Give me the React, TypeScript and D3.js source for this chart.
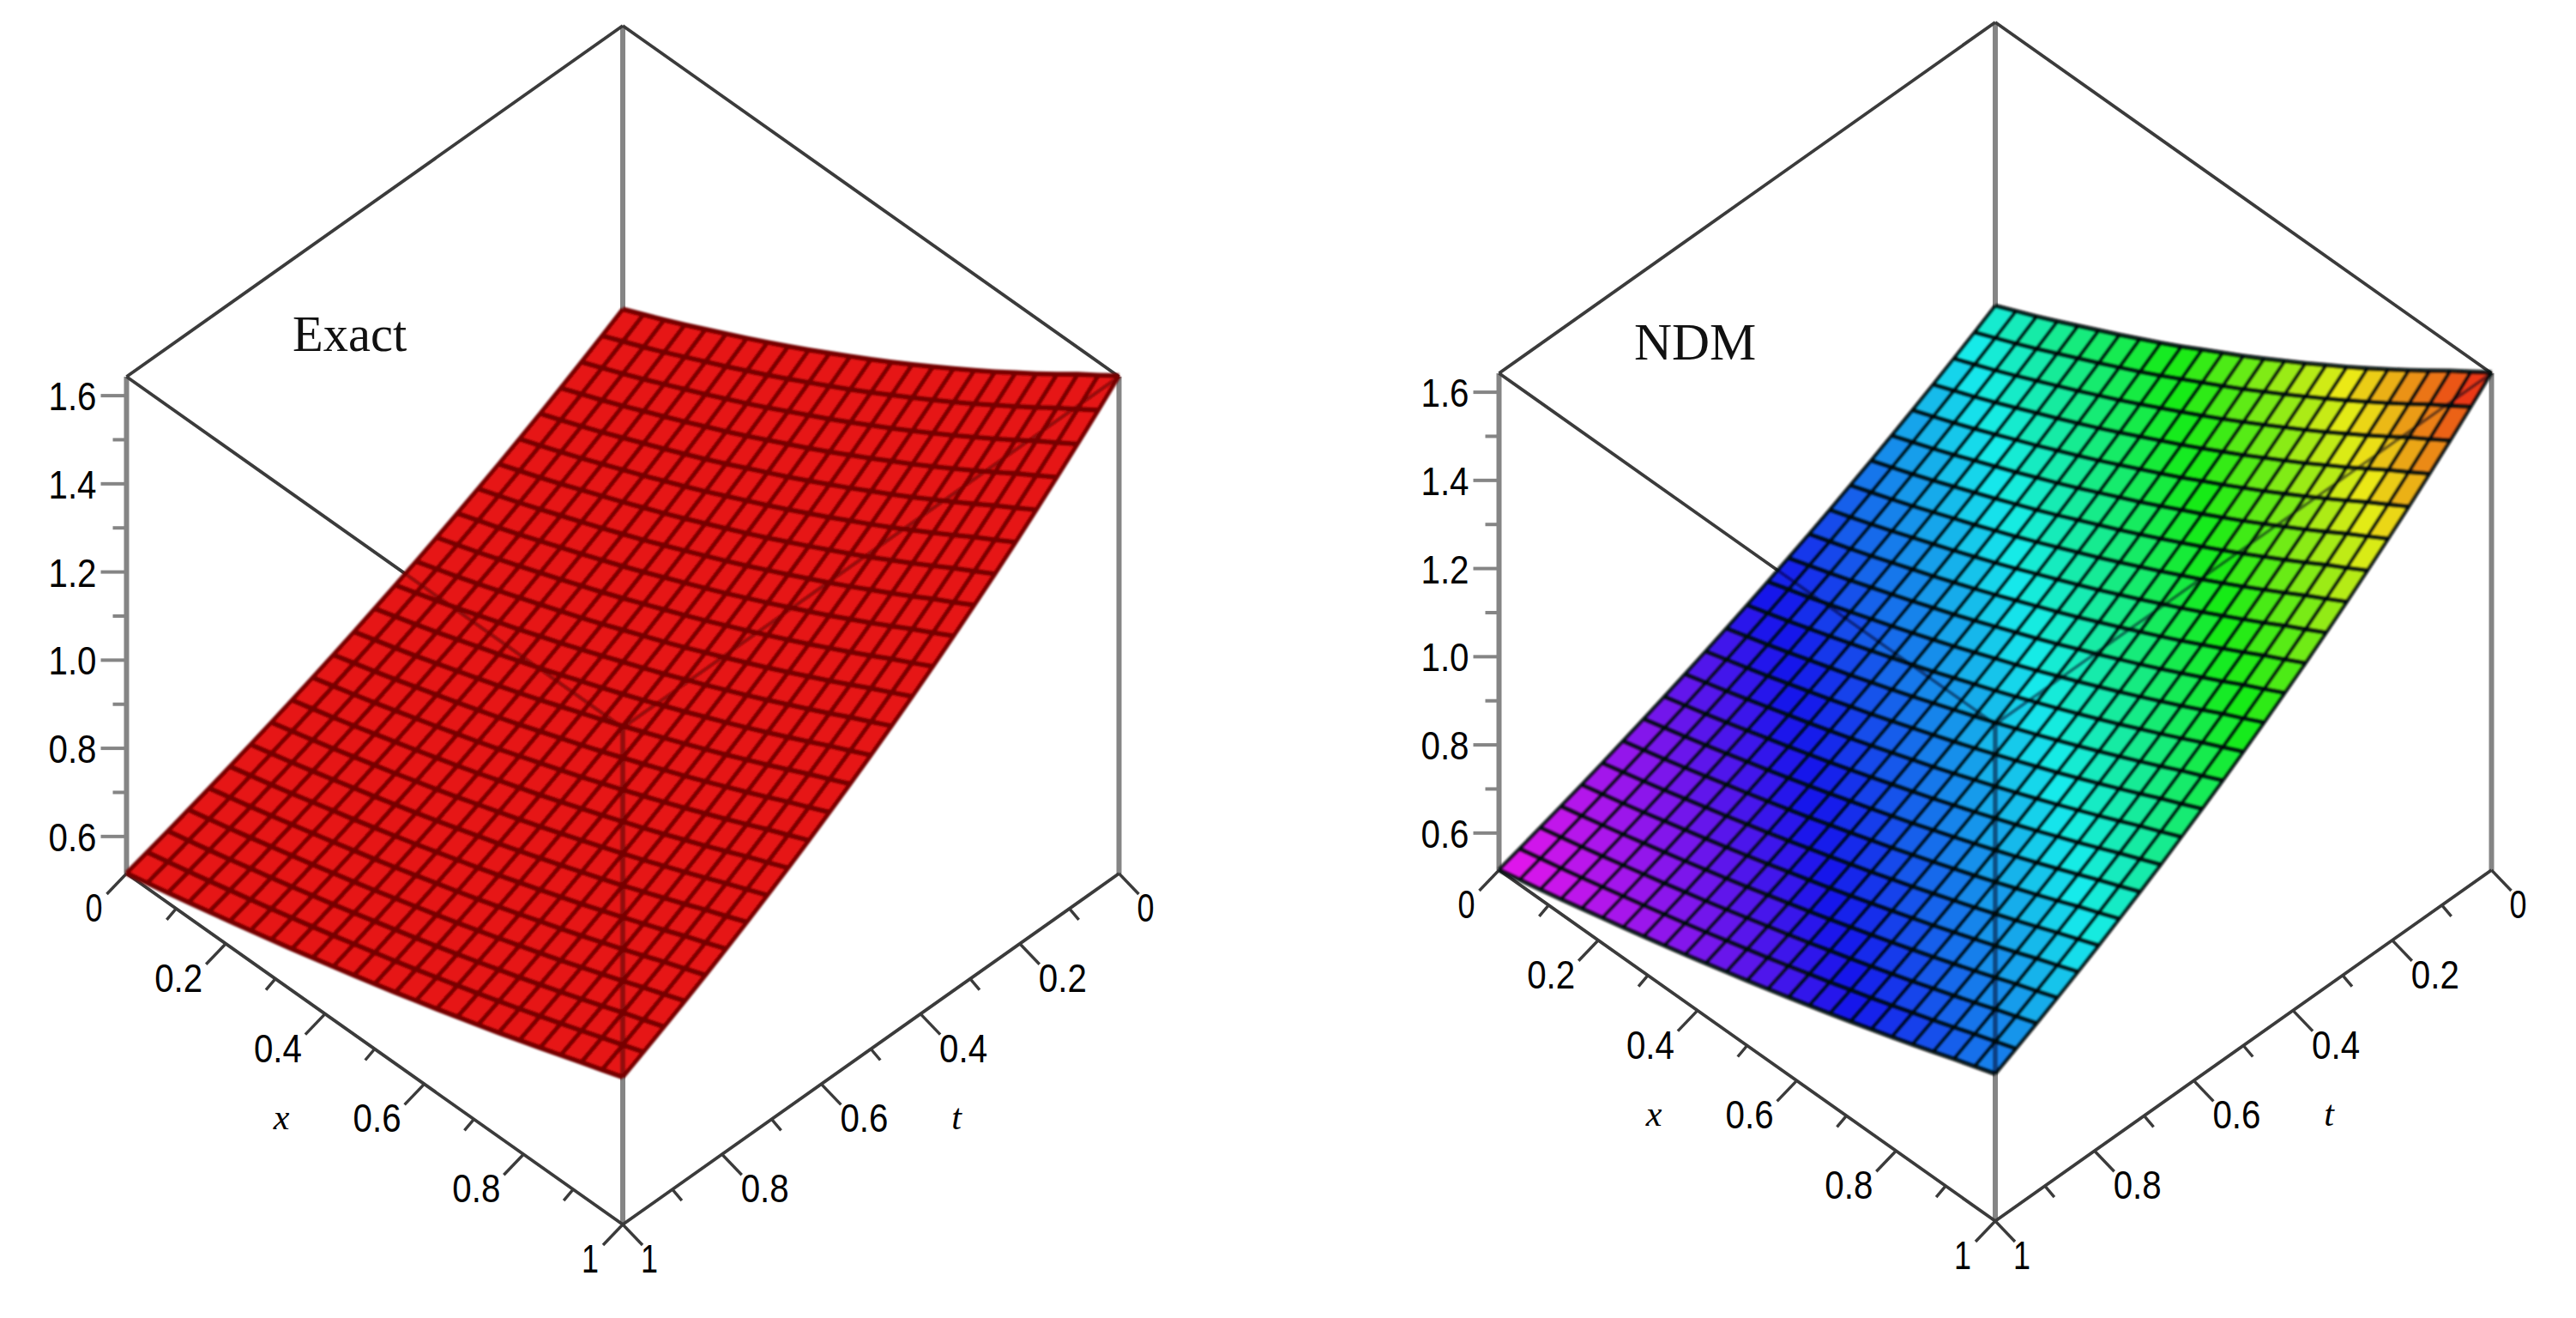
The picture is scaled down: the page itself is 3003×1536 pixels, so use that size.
import React from "react";
import * as d3 from "d3";

// Surface: height along the t = 0 edge for each x grid line,
// and the fraction of that height left along each t grid line.
const heightAtT0 = [1.000,1.021,1.042,1.064,1.087,1.110,1.133,1.157,1.181,1.206,1.232,1.258,1.284,1.311,1.339,1.367,1.396,1.425,1.455,1.486,1.517,1.549,1.582,1.613,1.645];
const ratioAlongT = [1,0.9729,0.9465,0.9208,0.8958,0.8715,0.8479,0.8249,0.8025,0.7807,0.7596,0.7390,0.7189,0.6994,0.6805,0.6620,0.6440,0.6266,0.6096,0.5930,0.5769,0.5613,0.5461,0.5313,0.5169];
const surface = heightAtT0.map((h) => ratioAlongT.map((r) => h * r));

const xGrid = heightAtT0.map((_, i) => i / (heightAtT0.length - 1));
const tGrid = ratioAlongT.map((_, j) => j / (ratioAlongT.length - 1));

const zMajor = [0.6, 0.8, 1.0, 1.2, 1.4, 1.6];
const zMinor = [0.7, 0.9, 1.1, 1.3, 1.5];
const axisMajor = [0, 0.2, 0.4, 0.6, 0.8, 1];
const axisMinor = [0.1, 0.3, 0.5, 0.7, 0.9];
const axisLabels = ["0", "0.2", "0.4", "0.6", "0.8", "1"];

const zMin = 0.516;
const zMax = 1.643;

const px = d3.scaleLinear().domain([0, 1]).range([0, 578.5]);
const py = d3.scaleLinear().domain([0, 1]).range([0, 409]);
const pz = d3.scaleLinear().domain([zMin, zMax]).range([0, 579]);
const hue = d3.scaleLinear().domain([0.516, 1.645]).range([300, 0]);

const project = (x: number, t: number, z: number): [number, number] => [
  147.5 + px(x) + px(1 - t),
  1018 + py(x) - py(1 - t) - pz(z),
];
const line = d3.line<[number, number]>();

type PanelProps = {
  title: string;
  titleX: number;
  titleY: number;
  titleSize: number;
  dx: number;
  dy: number;
  id: string;
  cellColor: (z: number) => string;
  gridColor: string;
  overlayColor: string;
  xWidth: number;
  tWidth: number;
};

function Panel({ title, titleX, titleY, titleSize, dx, dy, id, cellColor, gridColor, overlayColor, xWidth, tWidth }: PanelProps) {
  const P = project;
  const apex = P(0, 0, zMax);
  const lu = P(0, 1, zMax);
  const ru = P(1, 0, zMax);
  const center = P(1, 1, zMax);
  const ll = P(0, 1, zMin);
  const rl = P(1, 0, zMin);
  const front = P(1, 1, zMin);
  const back = P(0, 0, zMin);

  const n = xGrid.length;
  const m = tGrid.length;
  const cells: { d: string; c: string }[] = [];
  for (let i = 0; i < n - 1; i++) {
    for (let j = 0; j < m - 1; j++) {
      const avg = (surface[i][j] + surface[i + 1][j] + surface[i][j + 1] + surface[i + 1][j + 1]) / 4;
      cells.push({
        d: line([
          P(xGrid[i], tGrid[j], surface[i][j]),
          P(xGrid[i + 1], tGrid[j], surface[i + 1][j]),
          P(xGrid[i + 1], tGrid[j + 1], surface[i + 1][j + 1]),
          P(xGrid[i], tGrid[j + 1], surface[i][j + 1]),
        ]) + "Z",
        c: cellColor(avg),
      });
    }
  }
  const outline = [
    ...xGrid.map((x, i) => P(x, 0, surface[i][0])),
    ...tGrid.map((t, j) => P(1, t, surface[n - 1][j])),
    ...xGrid.map((x, i) => P(x, 1, surface[i][m - 1])).reverse(),
    ...tGrid.map((t, j) => P(0, t, surface[0][j])).reverse(),
  ];

  const grey = "#858585";
  const dark = "#3a3a3a";
  const digits = { fontFamily: "'Liberation Sans', Arial, sans-serif", fontSize: 47, fill: "#000" } as const;

  return (
    <g transform={`translate(${dx},${dy})`}>
      <defs>
        <clipPath id={`${id}-clip`}>
          <path d={line(outline) + "Z"} />
        </clipPath>
        <filter id={`${id}-soft`} x="-2%" y="-2%" width="104%" height="104%">
          <feGaussianBlur stdDeviation="1.3" />
        </filter>
        <filter id={`${id}-line`} x="-2%" y="-2%" width="104%" height="104%">
          <feGaussianBlur stdDeviation="0.6" />
        </filter>
      </defs>

      <g filter={`url(#${id}-line)`}>
        {/* box */}
        {[[apex, back], [lu, ll], [ru, rl], [center, front]].map((s, k) => (
          <path key={k} d={line(s as [number, number][]) ?? ""} stroke={grey} strokeWidth={6} fill="none" />
        ))}
        {[[lu, apex], [apex, ru], [lu, center], [ru, center], [ll, front], [rl, front]].map((s, k) => (
          <path key={k} d={line(s as [number, number][]) ?? ""} stroke={dark} strokeWidth={3.8} fill="none" />
        ))}

        {/* ticks */}
        {zMajor.map((z) => {
          const [a, b] = P(0, 1, z);
          return <path key={z} d={line([[a - 30, b], [a, b]]) ?? ""} stroke={grey} strokeWidth={4} />;
        })}
        {zMinor.map((z) => {
          const [a, b] = P(0, 1, z);
          return <path key={z} d={line([[a - 16, b], [a, b]]) ?? ""} stroke={grey} strokeWidth={4} />;
        })}
        {axisMajor.map((v) => {
          const a = P(v, 1, zMin);
          const b = P(1, v, zMin);
          return (
            <g key={v} stroke={dark} strokeWidth={3.4}>
              <path d={line([a, [a[0] - 23, a[1] + 24]]) ?? ""} />
              <path d={line([b, [b[0] + 23, b[1] + 24]]) ?? ""} />
            </g>
          );
        })}
        {axisMinor.map((v) => {
          const a = P(v, 1, zMin);
          const b = P(1, v, zMin);
          return (
            <g key={v} stroke={dark} strokeWidth={3.4}>
              <path d={line([a, [a[0] - 11, a[1] + 13]]) ?? ""} />
              <path d={line([b, [b[0] + 11, b[1] + 13]]) ?? ""} />
            </g>
          );
        })}
      </g>

      {/* surface */}
      <g filter={`url(#${id}-soft)`}>
        {cells.map((c, k) => (
          <path key={k} d={c.d} fill={c.c} stroke={c.c} strokeWidth={0.8} />
        ))}
        <g clipPath={`url(#${id}-clip)`} fill="none" stroke={overlayColor}>
          <path d={line([lu, center]) ?? ""} strokeWidth={4} />
          <path d={line([ru, center]) ?? ""} strokeWidth={4} />
          <path d={line([center, front]) ?? ""} strokeWidth={6} />
        </g>
        <g fill="none" stroke={gridColor}>
          {xGrid.map((x, i) => (
            <path key={i} strokeWidth={xWidth} d={line(tGrid.map((t, j) => P(x, t, surface[i][j]))) ?? ""} />
          ))}
          {tGrid.map((t, j) => (
            <path key={j} strokeWidth={tWidth} d={line(xGrid.map((x, i) => P(x, t, surface[i][j]))) ?? ""} />
          ))}
        </g>
      </g>

      {/* labels */}
      {zMajor.map((z) => {
        const [a, b] = P(0, 1, z);
        return (
          <text key={z} x={a - 35} y={b} dy="0.36em" textAnchor="end" textLength={56} lengthAdjust="spacingAndGlyphs" {...digits}>
            {z.toFixed(1)}
          </text>
        );
      })}
      {axisMajor.map((v, k) => {
        const a = P(v, 1, zMin);
        const b = P(1, v, zMin);
        const wide = axisLabels[k].length > 1;
        const tl = wide ? 56 : 20;
        const cy = 39;
        return (
          <g key={v}>
            <text x={a[0] - (wide ? 55 : 38)} y={a[1] + cy} dy="0.36em" textAnchor="middle" textLength={tl} lengthAdjust="spacingAndGlyphs" {...digits}>
              {axisLabels[k]}
            </text>
            <text x={b[0] + (wide ? 50 : 31)} y={b[1] + cy} dy="0.36em" textAnchor="middle" textLength={tl} lengthAdjust="spacingAndGlyphs" {...digits}>
              {axisLabels[k]}
            </text>
          </g>
        );
      })}
      <text x={328} y={1303} dy="0.3em" textAnchor="middle" fontFamily="'Liberation Serif', serif" fontStyle="italic" fontSize={42}>x</text>
      <text x={1115} y={1303} dy="0.3em" textAnchor="middle" fontFamily="'Liberation Serif', serif" fontStyle="italic" fontSize={42}>t</text>
      <text x={titleX} y={titleY} fontFamily="'Liberation Serif', serif" fontSize={titleSize} fill="#111">{title}</text>
    </g>
  );
}

export default function App() {
  const rainbow = (z: number) => d3.hsl(hue(z), 0.84, 0.5).formatHex();
  return (
    <svg width={3003} height={1536} viewBox="0 0 3003 1536" style={{ position: "absolute", left: 0, top: 0, display: "block", background: "#fff" }}>
      <Panel id="exact" title="Exact" titleX={341} titleY={409} titleSize={58.5} dx={0} dy={0}
        cellColor={() => "#e61212"} gridColor="#760000" overlayColor="rgba(60,0,0,0.5)" xWidth={5} tWidth={5.8} />
      <Panel id="ndm" title="NDM" titleX={305} titleY={423} titleSize={61} dx={1600} dy={-4}
        cellColor={rainbow} gridColor="rgba(0,10,10,0.88)" overlayColor="rgba(0,0,30,0.5)" xWidth={4.6} tWidth={5.6} />
    </svg>
  );
}
